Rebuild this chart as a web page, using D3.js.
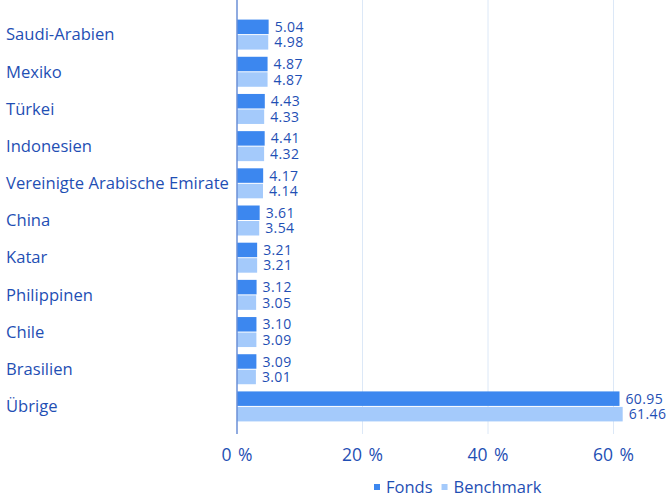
<!DOCTYPE html>
<html lang="de">
<head>
<meta charset="utf-8">
<script src="https://d3js.org/d3.v7.min.js"></script>
<style>
  body { margin: 0; background: #fff; }
  text { font-family: "Open Sans", "Noto Sans", sans-serif; fill: #1f4fb4; }
</style>
</head>
<body>
<div id="chart"></div>
<script>
// data
var countries = ["Saudi-Arabien", "Mexiko", "Türkei", "Indonesien", "Vereinigte Arabische Emirate",
                 "China", "Katar", "Philippinen", "Chile", "Brasilien", "Übrige"]
var fonds     = [5.04, 4.87, 4.43, 4.41, 4.17, 3.61, 3.21, 3.12, 3.10, 3.09, 60.95]
var benchmark = [4.98, 4.87, 4.33, 4.32, 4.14, 3.54, 3.21, 3.05, 3.09, 3.01, 61.46]
var ticks     = [0, 20, 40, 60]
var seriesNames = ["Fonds", "Benchmark"]
var colors = ["#3c87ef", "#a4cafb"]

var width = 670, height = 497

var svg = d3.select("#chart").append("svg")
    .attr("width", width)
    .attr("height", height)

var x = d3.scaleLinear().domain([0, 69]).range([237, 670])
var y = d3.scaleBand().domain(countries).range([16, 425]).padding(0)
var barH = 14.5

// grid lines
svg.selectAll(".grid")
  .data(ticks.slice(1))
  .enter().append("line")
    .attr("x1", d => x(d)).attr("x2", d => x(d))
    .attr("y1", 0).attr("y2", 434)
    .attr("stroke", "#dce8f7")
    .attr("stroke-width", 1)

// rows
var rows = countries.map(function(c, i) { return {name: c, vals: [fonds[i], benchmark[i]]} })

var g = svg.selectAll(".row")
  .data(rows)
  .enter().append("g")
    .attr("transform", d => "translate(0," + (y(d.name) + y.bandwidth() / 2) + ")")

g.append("text")
  .attr("x", 6)
  .attr("y", 0)
  .attr("dy", "0.35em")
  .style("font-size", "16.6px")
  .text(d => d.name)

seriesNames.forEach(function(s, k) {
  var top = k === 0 ? -barH - 0.5 : 0.5
  g.append("rect")
    .attr("x", x(0))
    .attr("y", top)
    .attr("width", d => x(d.vals[k]) - x(0))
    .attr("height", barH)
    .attr("fill", colors[k])
  g.append("text")
    .attr("x", d => x(d.vals[k]) + 6)
    .attr("y", top + barH / 2)
    .attr("dy", "0.36em")
    .style("font-size", "14px")
    .style("letter-spacing", "0.4px")
    .text(d => d.vals[k].toFixed(2))
})

// zero axis line
svg.append("line")
  .attr("x1", x(0)).attr("x2", x(0))
  .attr("y1", 0).attr("y2", 434)
  .attr("stroke", "#6b8fd6")
  .attr("stroke-width", 1.5)

// tick labels
svg.selectAll(".tick")
  .data(ticks)
  .enter().append("text")
    .attr("x", d => x(d))
    .attr("y", 461)
    .attr("text-anchor", "middle")
    .style("font-size", "17.5px")
    .style("word-spacing", "2px")
    .text(d => d + " %")

// legend
var legend = svg.append("g").attr("transform", "translate(374,488)")
var lx = 0
seriesNames.forEach(function(s, k) {
  legend.append("rect")
    .attr("x", lx).attr("y", -4)
    .attr("width", 6).attr("height", 6)
    .attr("fill", colors[k])
  var t = legend.append("text")
    .attr("x", lx + 12)
    .attr("y", 0)
    .attr("dy", "0.32em")
    .style("font-size", "16.5px")
    .text(s)
  lx += 12 + t.node().getComputedTextLength() + 9
})
</script>
</body>
</html>
